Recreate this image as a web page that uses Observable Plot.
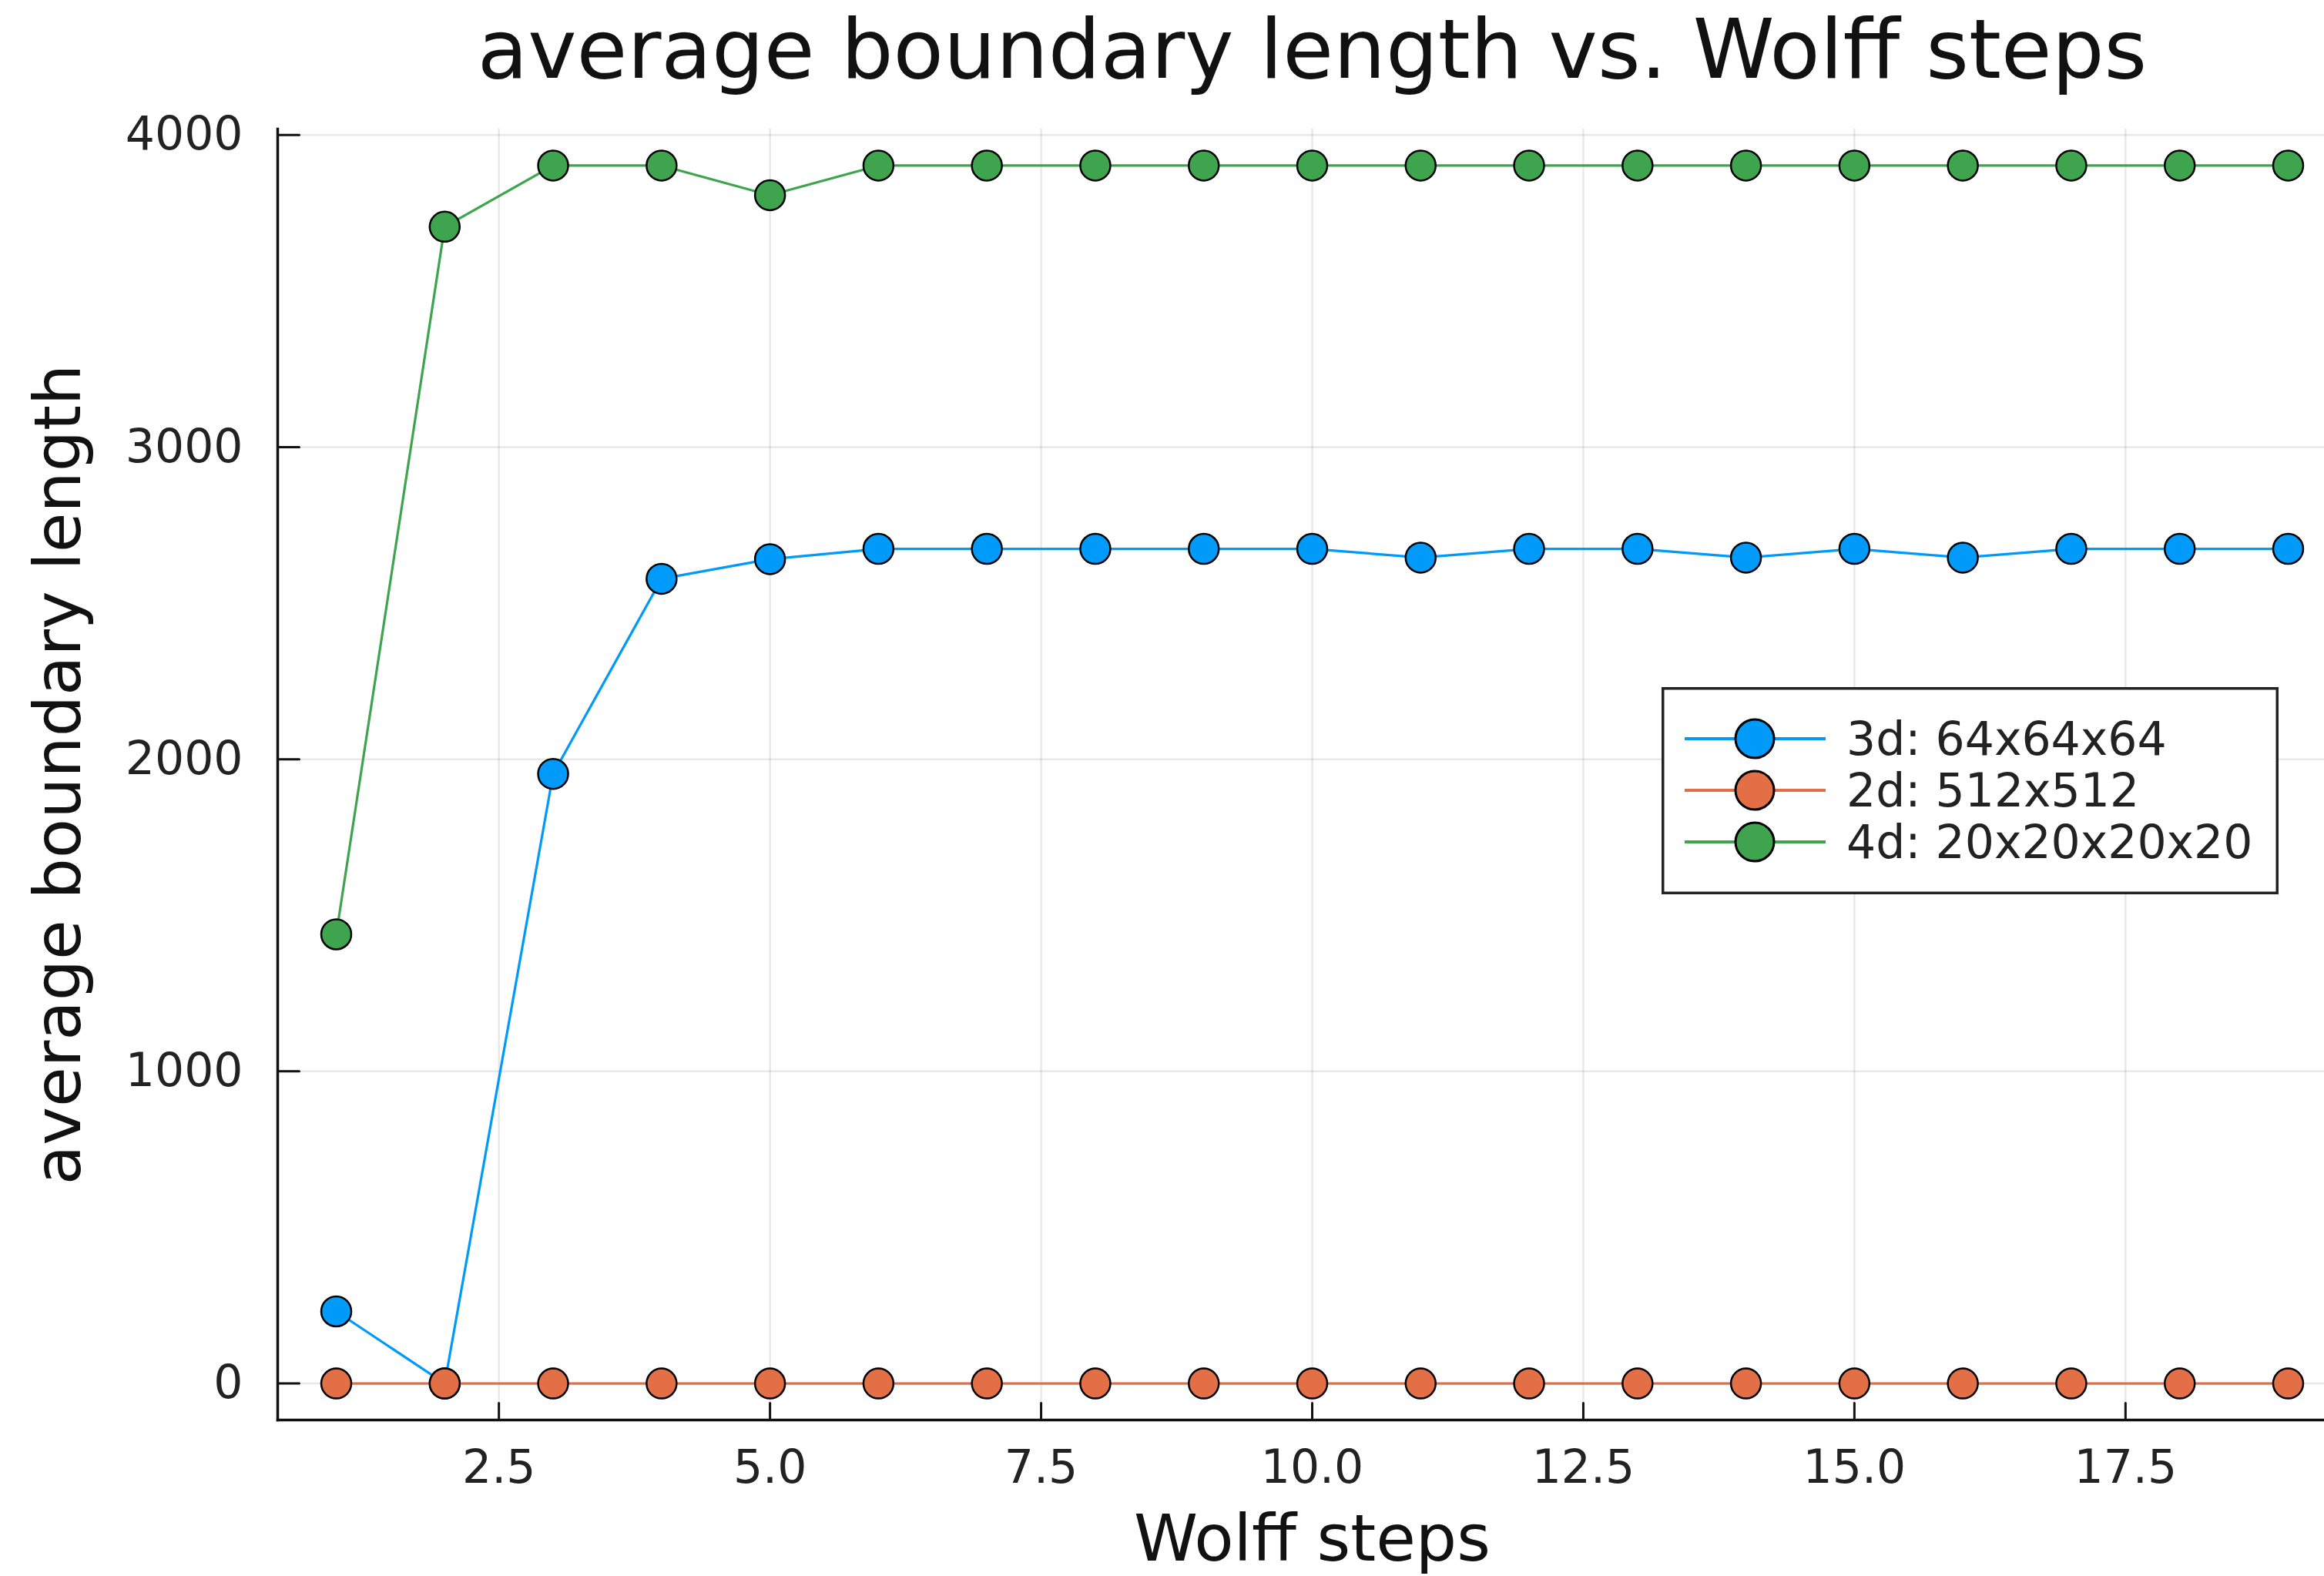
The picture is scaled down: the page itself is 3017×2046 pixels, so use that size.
<!DOCTYPE html>
<html><head><meta charset="utf-8">
<script src="https://cdn.jsdelivr.net/npm/d3@7"></script>
<script src="https://cdn.jsdelivr.net/npm/@observablehq/plot@0.6"></script>
<style>
html,body{margin:0;padding:0;background:#fff;overflow:hidden;}
#wrap{position:relative;width:3017px;height:2046px;overflow:hidden;}
#legend{position:absolute;left:2157px;top:892px;}
</style></head><body><div id="wrap"></div>
<script>
const steps = [1, 2, 3, 4, 5, 6, 7, 8, 9, 10, 11, 12, 13, 14, 15, 16, 17, 18, 19];
const seriesLabels = ["3d: 64x64x64", "2d: 512x512", "4d: 20x20x20x20"];
const seriesColors = ["#009AFA", "#E36F47", "#3EA44E"];
const values3d = [231, 0, 1953, 2578, 2641, 2674, 2674, 2674, 2674, 2674, 2646, 2674, 2674, 2646, 2674, 2646, 2674, 2674, 2674];
const values2d = [0, 0, 0, 0, 0, 0, 0, 0, 0, 0, 0, 0, 0, 0, 0, 0, 0, 0, 0];
const values4d = [1439, 3706, 3902, 3902, 3807, 3902, 3902, 3902, 3902, 3902, 3902, 3902, 3902, 3902, 3902, 3902, 3902, 3902, 3902];
const xTicks = [2.5, 5, 7.5, 10, 12.5, 15, 17.5];
const yTicks = [0, 1000, 2000, 3000, 4000];
const titleText = "average boundary length vs. Wolff steps";
const xLabel = "Wolff steps";
const yLabel = "average boundary length";

const allSeries = [values3d, values2d, values4d];
const seriesData = allSeries.map((vals, i) => steps.map((s, j) => ({step: s, value: vals[j], series: seriesLabels[i]})));

const xExtent = d3.extent(steps);
const xPad = (xExtent[1] - xExtent[0]) * 0.03;
const xDomain = [xExtent[0] - xPad, xExtent[1] + xPad];
const yExtent = d3.extent(allSeries.flat());
const yPad = (yExtent[1] - yExtent[0]) * 0.03;
const yDomain = [yExtent[0] - yPad, yExtent[1] + yPad];

const tickShape = {draw(context, l) { context.moveTo(0, 0); context.lineTo(0, -l); }};
const font = "DejaVu Sans";

const seriesMarks = seriesData.flatMap((data, i) => [
  Plot.line(data, {x: "step", y: "value", stroke: seriesColors[i], strokeWidth: 3.2}),
  Plot.dot(data, {x: "step", y: "value", r: 19.5, fill: seriesColors[i], stroke: "#000", strokeWidth: 2.5})
]);

const chart = Plot.plot({
  width: 3017,
  height: 2046,
  marginLeft: 360,
  marginRight: -29,
  marginTop: 167,
  marginBottom: 203,
  style: {fontFamily: font, fontSize: "60px", background: "white", color: "#222", overflow: "visible"},
  x: {domain: xDomain, label: null},
  y: {domain: yDomain, label: null},
  marks: [
    Plot.gridX(xTicks, {stroke: "#000", strokeOpacity: 0.09, strokeWidth: 2.5}),
    Plot.gridY(yTicks, {stroke: "#000", strokeOpacity: 0.09, strokeWidth: 2.5}),
    Plot.frame({anchor: "left", stroke: "#111", strokeWidth: 3.5}),
    Plot.frame({anchor: "bottom", stroke: "#111", strokeWidth: 3.5}),
    Plot.vector(yTicks, {y: d => d, frameAnchor: "left", rotate: 90, length: 28, anchor: "start", shape: tickShape, stroke: "#111", strokeWidth: 3}),
    Plot.vector(xTicks, {x: d => d, frameAnchor: "bottom", rotate: 0, length: 22, anchor: "start", shape: tickShape, stroke: "#111", strokeWidth: 3}),
    Plot.axisX(xTicks, {tickSize: 0, tickPadding: 39, tickFormat: d3.format(".1f"), label: null, fontSize: 60, fill: "#222"}),
    Plot.axisY(yTicks, {tickSize: 0, tickPadding: 45, tickFormat: d3.format("d"), label: null, fontSize: 60, fill: "#222"}),
    ...seriesMarks,
    Plot.text([titleText], {frameAnchor: "top", textAnchor: "middle", lineAnchor: "bottom", dy: -67, fontSize: 107, fill: "#111"}),
    Plot.text([xLabel], {frameAnchor: "bottom", textAnchor: "middle", lineAnchor: "bottom", dy: 182, fontSize: 84, fill: "#111"}),
    Plot.text([yLabel], {frameAnchor: "left", textAnchor: "middle", lineAnchor: "middle", rotate: -90, dx: -283, fontSize: 84, fill: "#111"})
  ]
});

const wrap = document.getElementById("wrap");
wrap.appendChild(chart);

// legend
const lw = 801, lh = 269;
const legend = d3.select(wrap).append("svg")
  .attr("id", "legend").attr("width", lw).attr("height", lh)
  .style("font-family", font);
legend.append("rect").attr("x", 1.75).attr("y", 1.75).attr("width", lw - 3.5).attr("height", lh - 3.5)
  .attr("fill", "white").attr("stroke", "#222").attr("stroke-width", 3.5);
seriesLabels.forEach((lab, i) => {
  const cy = 67 + i * 67;
  const g = legend.append("g");
  g.append("line").attr("x1", 30).attr("x2", 213).attr("y1", cy).attr("y2", cy)
    .attr("stroke", seriesColors[i]).attr("stroke-width", 4);
  g.append("circle").attr("cx", 121).attr("cy", cy).attr("r", 25)
    .attr("fill", seriesColors[i]).attr("stroke", "#000").attr("stroke-width", 3);
  g.append("text").attr("x", 240).attr("y", cy).attr("dy", "0.35em")
    .attr("font-size", 60).attr("fill", "#222").text(lab);
});
</script></body></html>
